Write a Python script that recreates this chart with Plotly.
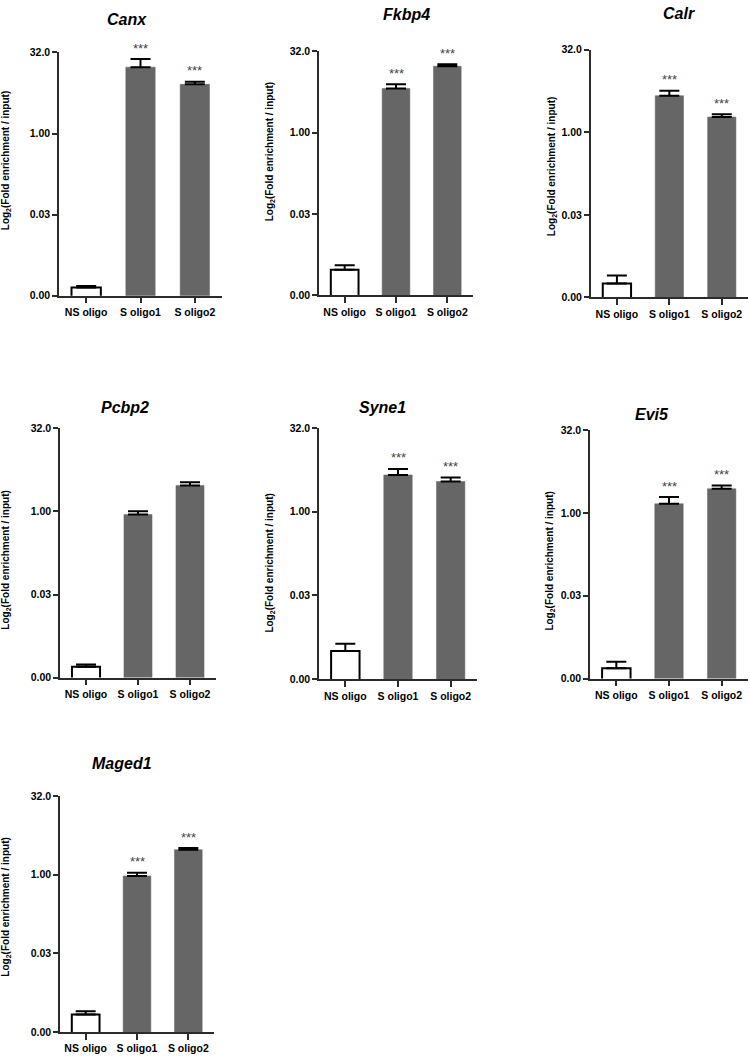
import math
import plotly.graph_objects as go

# ---------------- data ----------------
genes = ["Canx", "Fkbp4", "Calr", "Pcbp2", "Syne1", "Evi5", "Maged1"]
categories = ["NS oligo", "S oligo1", "S oligo2"]

# fold enrichment / input (linear values, plotted on a log2 axis)
canx_mean = [0.00138, 17.1, 8.2]
canx_sem = [0.0001, 7.1, 1.0]
fkbp4_mean = [0.00292, 6.54, 16.8]
fkbp4_sem = [0.0006, 1.3, 1.45]
calr_mean = [0.00175, 4.66, 1.9]
calr_sem = [0.0007, 1.08, 0.24]
pcbp2_mean = [0.00153, 0.883, 2.97]
pcbp2_sem = [0.00016, 0.13, 0.42]
syne1_mean = [0.00315, 4.56, 3.48]
syne1_sem = [0.0011, 1.3, 0.63]
evi5_mean = [0.0015, 1.47, 2.75]
evi5_sem = [0.00047, 0.47, 0.39]
maged1_mean = [0.00211, 0.946, 3.03]
maged1_sem = [0.00033, 0.15, 0.22]

canx_sig = ["", "***", "***"]
fkbp4_sig = ["", "***", "***"]
calr_sig = ["", "***", "***"]
pcbp2_sig = ["", "", ""]
syne1_sig = ["", "***", "***"]
evi5_sig = ["", "***", "***"]
maged1_sig = ["", "***", "***"]

tick_values = [2 ** -10, 2 ** -5, 1, 32]
tick_labels = ["0.00", "0.03", "1.00", "32.0"]
y_title = "Log<sub>2</sub>(Fold enrichment / input)"

means = [canx_mean, fkbp4_mean, calr_mean, pcbp2_mean, syne1_mean, evi5_mean, maged1_mean]
sems = [canx_sem, fkbp4_sem, calr_sem, pcbp2_sem, syne1_sem, evi5_sem, maged1_sem]
sigs = [canx_sig, fkbp4_sig, calr_sig, pcbp2_sig, syne1_sig, evi5_sig, maged1_sig]

# ---------------- layout (pixels) ----------------
W, H = 750, 1057
# plot boxes: x0, x1, ytop, ybottom
boxes = [
    (59, 222, 47, 293),
    (319, 473, 45.7, 292.7),
    (590.7, 748, 44.3, 294.7),
    (60, 216, 427.3, 679.3),
    (319, 477, 426.7, 681),
    (590, 748, 429, 680.3),
    (60, 214, 799.3, 1037.7),
]
title_pos = [(127, 13.5), (406, 8.5), (679, 7.5), (125, 406), (382, 406), (652, 413), (122, 766)]
ytitle_pos = [(6, 157), (270, 148), (552, 163), (6, 561), (270, 564), (550, 562), (6, 912)]

FONT = "Liberation Sans, Arial, sans-serif"
AXIS_COLOR = "#2b2b2b"
BAR_GRAY = "#666666"

fig = go.Figure()
annotations = []


def px_x(x):
    return x / W


def px_y(y):
    return 1 - y / H


for i, g in enumerate(genes):
    n = i + 1
    xa = "x" if n == 1 else f"x{n}"
    ya = "y" if n == 1 else f"y{n}"
    fills = ["white", BAR_GRAY, BAR_GRAY]
    lines = ["black", BAR_GRAY, BAR_GRAY]
    fig.add_trace(go.Bar(
        x=categories, y=means[i], xaxis=xa, yaxis=ya,
        width=0.54,
        marker=dict(color=fills, line=dict(color=lines, width=[2, 0.5, 0.5])),
        error_y=dict(type="data", symmetric=False, array=sems[i],
                     arrayminus=[0] * len(sems[i]), color="black",
                     thickness=2, width=10),
        showlegend=False, hoverinfo="skip",
    ))
    x0, x1, yt, yb = boxes[i]
    axkey = "xaxis" if n == 1 else f"xaxis{n}"
    aykey = "yaxis" if n == 1 else f"yaxis{n}"
    fig.update_layout({
        axkey: dict(domain=[px_x(x0), px_x(x1)], anchor=ya, showline=True,
                    linecolor=AXIS_COLOR, linewidth=1.5, ticks="outside",
                    ticklen=6, tickwidth=1.5, tickcolor=AXIS_COLOR,
                    showgrid=False, zeroline=False, fixedrange=True,
                    tickfont=dict(family=FONT, size=10.5, color="black", weight="bold")),
        aykey: dict(domain=[px_y(yb), px_y(yt)], anchor=xa, type="log",
                    range=[math.log10(tick_values[0]), math.log10(tick_values[-1])],
                    tickvals=tick_values, ticktext=tick_labels,
                    showline=True, linecolor=AXIS_COLOR, linewidth=1.5,
                    ticks="outside", ticklen=5, tickwidth=1.5, tickcolor=AXIS_COLOR,
                    showgrid=False, zeroline=False, fixedrange=True,
                    tickfont=dict(family=FONT, size=10.5, color="black", weight="bold")),
    })
    # gene title
    tx, ty = title_pos[i]
    annotations.append(dict(x=px_x(tx), y=px_y(ty), xref="paper", yref="paper",
                            text=f"<b><i>{g}</i></b>", showarrow=False,
                            xanchor="center", yanchor="middle",
                            font=dict(family=FONT, size=16, color="black")))
    # y title
    yx, yy = ytitle_pos[i]
    annotations.append(dict(x=px_x(yx), y=px_y(yy), xref="paper", yref="paper",
                            text=f"<b>{y_title}</b>", showarrow=False, textangle=-90,
                            xanchor="center", yanchor="middle",
                            font=dict(family=FONT, size=10, color="black")))
    # significance
    for c, m, s, sg in zip(categories, means[i], sems[i], sigs[i]):
        if sg:
            annotations.append(dict(x=c, y=math.log10(m + s), xref=xa, yref=ya,
                                    text=sg, showarrow=False, yanchor="middle",
                                    yshift=11,
                                    font=dict(family=FONT, size=13, color="#444444")))

fig.update_layout(
    width=W, height=H, autosize=False, margin=dict(l=0, r=0, t=0, b=0, pad=0),
    paper_bgcolor="white", plot_bgcolor="white",
    annotations=annotations, bargap=0.46,
)

fig.write_html("out.html", config={"displayModeBar": False},
               post_script="document.body.style.margin='0';document.body.style.padding='0';")
